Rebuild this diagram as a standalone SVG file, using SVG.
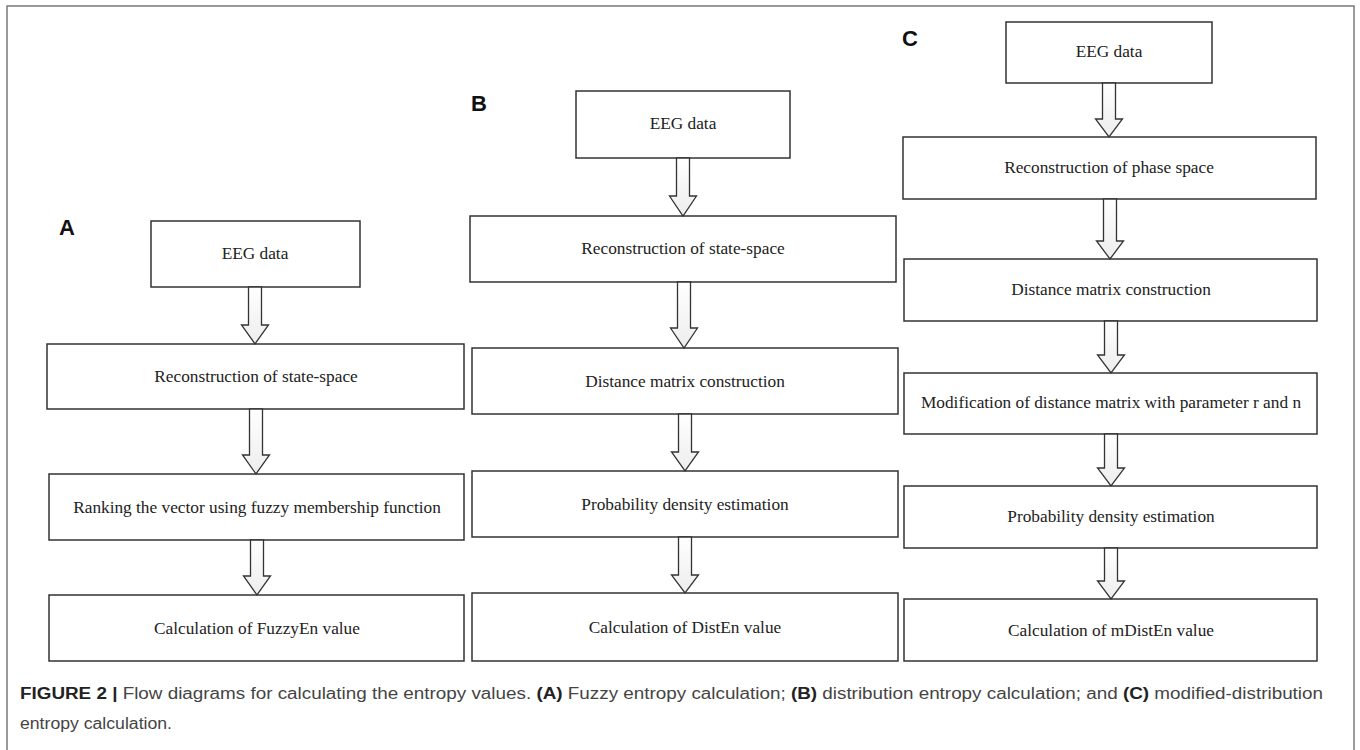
<svg xmlns="http://www.w3.org/2000/svg" width="1360" height="750" viewBox="0 0 1360 750">
<defs>
<linearGradient id="ag" x1="0" y1="0" x2="0" y2="1">
<stop offset="0" stop-color="#ffffff"/>
<stop offset="1" stop-color="#ededed"/>
</linearGradient>
</defs>
<style>
.frame{fill:#fff;stroke:#7a7a7a;stroke-width:1.5}
.box{fill:#fff;stroke:#333;stroke-width:1.5}
.arr{fill:url(#ag);stroke:#333;stroke-width:1.3;stroke-linejoin:miter}
.t{font-family:"Liberation Serif","Times New Roman",serif;font-size:17.3px;fill:#222;text-anchor:middle}
.lab{font-family:"Liberation Sans",Arial,sans-serif;font-size:22px;font-weight:bold;fill:#111}
.cap{font-family:"Liberation Sans",Arial,sans-serif;font-size:16px;fill:#444}
.capb{font-weight:bold;fill:#222}
</style>
<rect class="frame" x="7" y="6" width="1347" height="745"/>

<g id="panelA">
<text class="lab" x="59" y="235">A</text>
<g id="A1"><rect class="box" x="151" y="221" width="209" height="66"/><text class="t" x="255" y="259">EEG data</text></g>
<g id="A2"><rect class="box" x="47" y="344" width="417" height="65"/><text class="t" x="256" y="382">Reconstruction of state-space</text></g>
<g id="A3"><rect class="box" x="49" y="474" width="415" height="66"/><text class="t" x="257" y="513">Ranking the vector using fuzzy membership function</text></g>
<g id="A4"><rect class="box" x="49" y="595" width="415" height="66"/><text class="t" x="257" y="634">Calculation of FuzzyEn value</text></g>
</g>

<g id="panelB">
<text class="lab" x="471" y="111">B</text>
<g id="B1"><rect class="box" x="576" y="91" width="214" height="67"/><text class="t" x="683" y="129">EEG data</text></g>
<g id="B2"><rect class="box" x="470" y="216" width="426" height="66"/><text class="t" x="683" y="254">Reconstruction of state-space</text></g>
<g id="B3"><rect class="box" x="472" y="348" width="426" height="66"/><text class="t" x="685" y="387">Distance matrix construction</text></g>
<g id="B4"><rect class="box" x="472" y="471" width="426" height="66"/><text class="t" x="685" y="510">Probability density estimation</text></g>
<g id="B5"><rect class="box" x="472" y="593" width="426" height="68"/><text class="t" x="685" y="633">Calculation of DistEn value</text></g>
</g>

<g id="panelC">
<text class="lab" x="902" y="46">C</text>
<g id="C1"><rect class="box" x="1006" y="22" width="206" height="61"/><text class="t" x="1109" y="57">EEG data</text></g>
<g id="C2"><rect class="box" x="903" y="137" width="413" height="62"/><text class="t" x="1109" y="173">Reconstruction of phase space</text></g>
<g id="C3"><rect class="box" x="904" y="259" width="413" height="62"/><text class="t" x="1111" y="295">Distance matrix construction</text></g>
<g id="C4"><rect class="box" x="904" y="373" width="413" height="61"/><text class="t" x="1111" y="408">Modification of distance matrix with parameter r and n</text></g>
<g id="C5"><rect class="box" x="904" y="486" width="413" height="62"/><text class="t" x="1111" y="522">Probability density estimation</text></g>
<g id="C6"><rect class="box" x="904" y="599" width="413" height="62"/><text class="t" x="1111" y="636">Calculation of mDistEn value</text></g>
</g>

<g id="connectors">
<path class="arr" d="M248.5 287 V325 H241.5 L255 344 L268.5 325 H261.5 V287 Z"/>
<path class="arr" d="M249.5 409 V455 H242.5 L256 474 L269.5 455 H262.5 V409 Z"/>
<path class="arr" d="M250.5 540 V576 H243.5 L257 595 L270.5 576 H263.5 V540 Z"/>
<path class="arr" d="M676.5 158 V196 H669.5 L683 216 L696.5 196 H689.5 V158 Z"/>
<path class="arr" d="M677.5 282 V328 H670.5 L684 348 L697.5 328 H690.5 V282 Z"/>
<path class="arr" d="M678.5 414 V452 H671.5 L685 471 L698.5 452 H691.5 V414 Z"/>
<path class="arr" d="M678.5 537 V575 H671.5 L685 593 L698.5 575 H691.5 V537 Z"/>
<path class="arr" d="M1102.5 83 V119 H1095.5 L1109 137 L1122.5 119 H1115.5 V83 Z"/>
<path class="arr" d="M1103.5 199 V241 H1096.5 L1110 259 L1123.5 241 H1116.5 V199 Z"/>
<path class="arr" d="M1104.5 321 V355 H1097.5 L1111 373 L1124.5 355 H1117.5 V321 Z"/>
<path class="arr" d="M1104.5 434 V468 H1097.5 L1111 486 L1124.5 468 H1117.5 V434 Z"/>
<path class="arr" d="M1104.5 548 V581 H1097.5 L1111 599 L1124.5 581 H1117.5 V548 Z"/>
</g>

<g id="caption">
<text class="cap" x="20" y="699" textLength="1303" lengthAdjust="spacingAndGlyphs"><tspan class="capb">FIGURE 2 |</tspan> Flow diagrams for calculating the entropy values. <tspan class="capb">(A)</tspan> Fuzzy entropy calculation; <tspan class="capb">(B)</tspan> distribution entropy calculation; and <tspan class="capb">(C)</tspan> modified-distribution</text>
<text class="cap" x="20" y="729" textLength="152" lengthAdjust="spacingAndGlyphs">entropy calculation.</text>
</g>
</svg>
